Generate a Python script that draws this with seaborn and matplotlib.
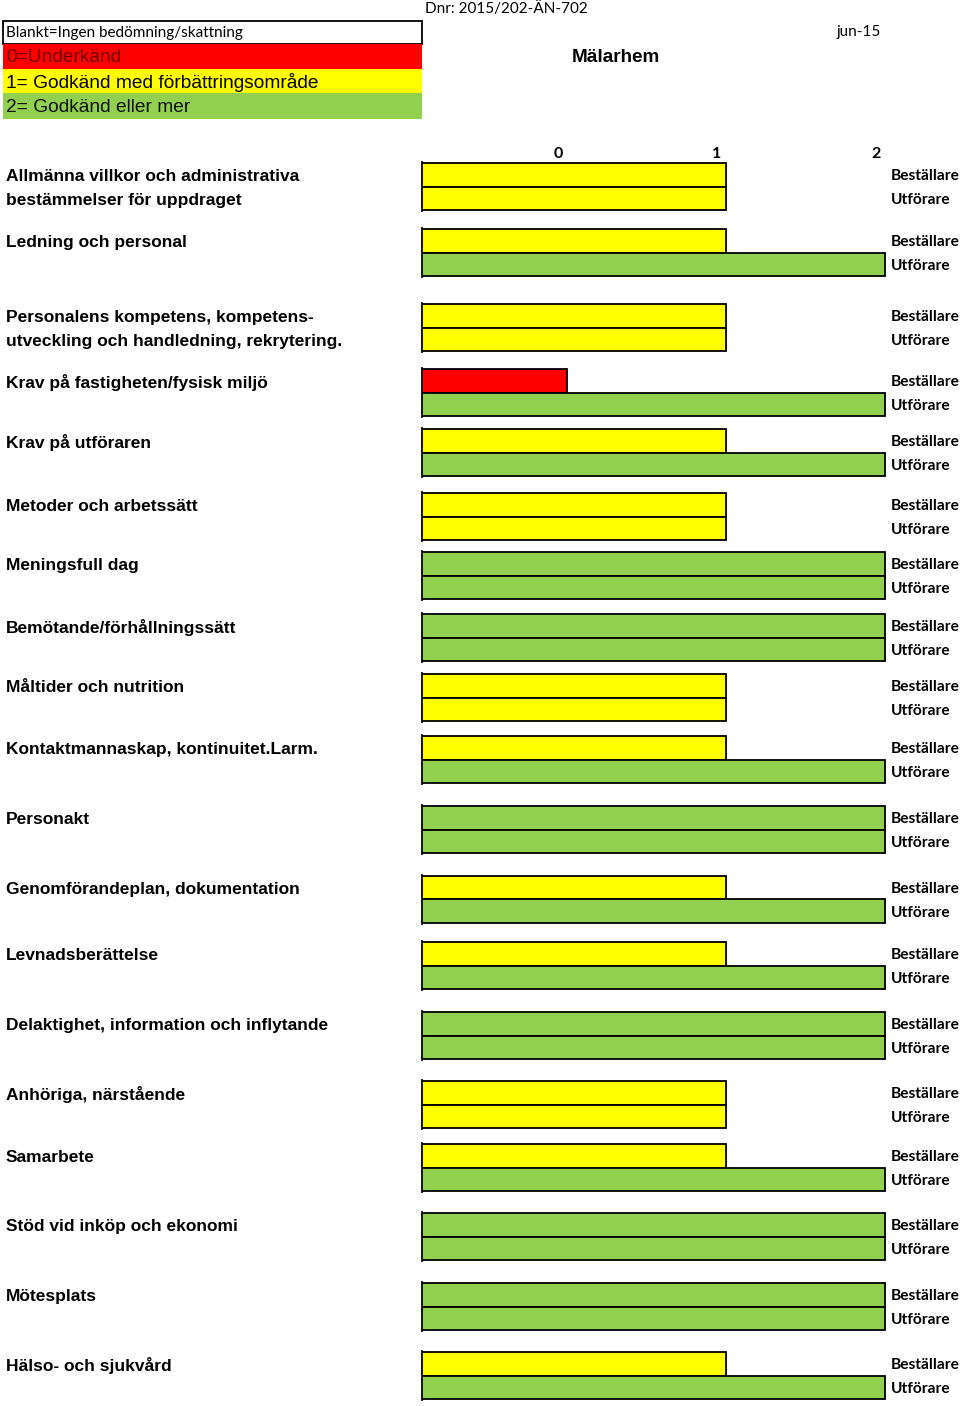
import numpy as np
import pandas as pd
import matplotlib.pyplot as plt
import seaborn as sns
from matplotlib.patches import Rectangle
from matplotlib.transforms import ScaledTranslation

# data
categories = [
    "Allmänna villkor och administrativa\nbestämmelser för uppdraget",
    "Ledning och personal",
    "Personalens kompetens, kompetens-\nutveckling och handledning, rekrytering.",
    "Krav på fastigheten/fysisk miljö",
    "Krav på utföraren",
    "Metoder och arbetssätt",
    "Meningsfull dag",
    "Bemötande/förhållningssätt",
    "Måltider och nutrition",
    "Kontaktmannaskap, kontinuitet.Larm.",
    "Personakt",
    "Genomförandeplan, dokumentation",
    "Levnadsberättelse",
    "Delaktighet, information och inflytande",
    "Anhöriga, närstående",
    "Samarbete",
    "Stöd vid inköp och ekonomi",
    "Mötesplats",
    "Hälso- och sjukvård",
]
bestallare = [1, 1, 1, 0, 1, 1, 2, 2, 1, 1, 2, 1, 1, 2, 1, 1, 2, 2, 1]
utforare = [1, 2, 1, 2, 2, 1, 2, 2, 1, 2, 2, 2, 2, 2, 1, 2, 2, 2, 2]
roles = ["Beställare", "Utförare"]
score_labels = ["0", "1", "2"]
legend_texts = ["Blankt=Ingen bedömning/skattning", "0=Underkänd",
                "1= Godkänd med förbättringsområde", "2= Godkänd eller mer"]
dnr = "Dnr: 2015/202-ÄN-702"
datum = "jun-15"
enhet = "Mälarhem"

colors = {"0": "#FF0000", "1": "#FFFF00", "2": "#92D050"}

# layout (pixels)
W, H = 960, 1406
row_tops = [163, 229, 304, 369, 429, 493, 552, 614, 674, 736,
            806, 876, 942, 1012, 1081, 1144, 1213, 1283, 1352]
bar_px = 23.5
pad_px = 1.0
x_left_px, unit_px = 422, 159
x_min, x_max = 0.088, 3.013

sns.set_theme(style="white")
plt.rcParams["font.family"] = ["Liberation Sans", "DejaVu Sans"]
plt.rcParams["text.color"] = "black"
plt.rcParams["xtick.color"] = "black"
plt.rcParams["ytick.color"] = "black"
plt.rcParams["axes.labelcolor"] = "black"

calibri_like = ["Lato", "DejaVu Sans"]

fig = plt.figure(figsize=(W / 100, H / 100), dpi=100)
overlay = fig.add_axes([0, 0, 1, 1])
overlay.set_xlim(0, W)
overlay.set_ylim(H, 0)
overlay.axis("off")

# legend boxes top left
box_rows = [(21, 23, "white", "black"), (44, 25, "#FF0000", "#700000"),
            (69, 24, "#FFFF00", "black"), (93, 26, "#92D050", "#111111")]
for (top, h, fc, tc), txt in zip(box_rows, legend_texts):
    overlay.add_patch(Rectangle((3, top), 419, h, facecolor=fc,
                                edgecolor="black" if fc == "white" else "none", lw=1.3))
    if fc == "white":
        overlay.text(6, top + h / 2, txt, va="center", fontsize=11, family=calibri_like, color=tc)
    else:
        overlay.text(6, top + h / 2 + 1, txt, va="center", fontsize=13.8, color=tc)

overlay.text(506, 9, dnr, ha="center", va="center", fontsize=11, family=calibri_like)
overlay.text(881, 32, datum, ha="right", va="center", fontsize=11, family=calibri_like)
overlay.text(616, 57, enhet, ha="center", va="center", fontsize=13.6, fontweight="bold")

pad = pad_px / bar_px
for i, cat in enumerate(categories):
    top = row_tops[i] - pad_px
    h = 2 * bar_px + 2 * pad_px
    ax = fig.add_axes([x_left_px / W, 1 - (top + h) / H,
                       (x_max - x_min) * unit_px / W, h / H])
    d = pd.DataFrame({"roll": roles,
                      "betyg": [str(bestallare[i]), str(utforare[i])]})
    d["längd"] = d["betyg"].astype(int) + 1
    sns.barplot(data=d, x="längd", y="roll", hue="betyg", palette=colors,
                order=roles, dodge=False, width=1.0, saturation=1,
                edgecolor="black", linewidth=1.3, legend=False, ax=ax)
    ax.set_xlim(x_min, x_max)
    ax.set_ylim(1.5 + pad, -0.5 - pad)
    ax.set_xlabel("")
    ax.set_ylabel("")
    ax.set_facecolor("none")
    ax.yaxis.tick_right()
    ax.tick_params(axis="y", length=0, pad=3, labelsize=11.2)
    for lbl in ax.get_yticklabels():
        lbl.set_fontfamily(calibri_like)
        lbl.set_fontweight("bold")
    for side in ["top", "right", "bottom"]:
        ax.spines[side].set_visible(False)
    ax.spines["left"].set_visible(True)
    ax.spines["left"].set_color("black")
    ax.spines["left"].set_linewidth(1.3)
    if i == 0:
        ax.xaxis.tick_top()
        ax.set_xticks([int(s) + 1 for s in score_labels])
        ax.set_xticklabels(score_labels, fontfamily=calibri_like,
                           fontweight="bold", fontsize=11.5)
        ax.tick_params(axis="x", length=0, pad=1)
        for lbl in ax.get_xticklabels():
            lbl.set_transform(lbl.get_transform() + ScaledTranslation(-0.09, 0, fig.dpi_scale_trans))
    else:
        ax.set_xticks([])

    for k, line in enumerate(cat.split("\n")):
        overlay.text(6, row_tops[i] + bar_px * (k + 0.5) + 2, line, va="center",
                     fontsize=12.5, fontweight="bold")

fig.savefig("out.png", dpi=100)
